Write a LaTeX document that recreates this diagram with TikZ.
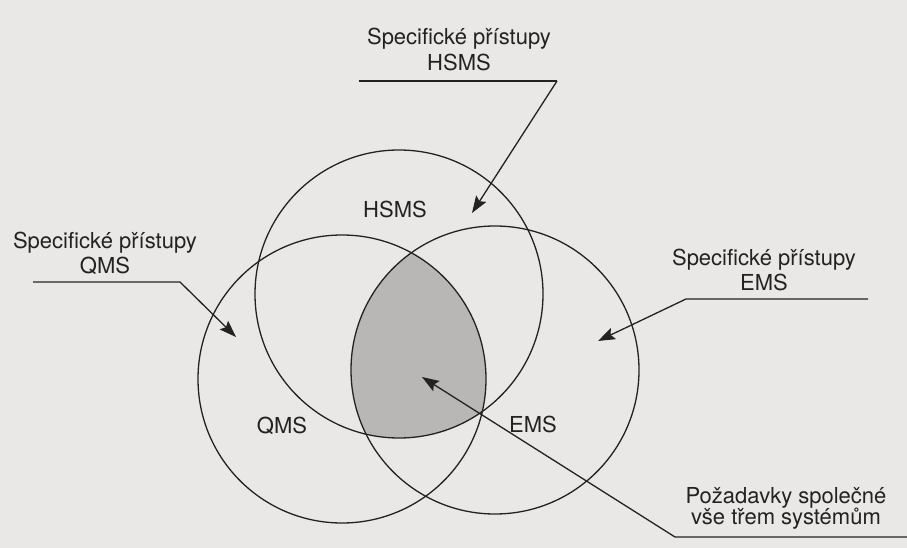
\documentclass[tikz,border=0pt]{standalone}
\usepackage{fontspec}
\setmainfont{TeX Gyre Heros}
\usetikzlibrary{arrows.meta}
\definecolor{paper}{RGB}{233,232,230}
\definecolor{ink}{RGB}{34,34,34}
\definecolor{core}{RGB}{184,183,181}
\begin{document}
\begin{tikzpicture}[x=1pt,y=-1pt,
  lbl/.style={inner sep=0pt, anchor=base, text=ink, font=\fontsize{22}{25}\selectfont},
  ring/.style={draw=ink, line width=1.3pt},
  pointer/.style={draw=ink, line width=1.3pt, line join=miter,
    -{Stealth[length=17pt, width=12pt, inset=3pt]}},
  rule/.style={draw=ink, line width=1.3pt}]
  % page
  \fill[paper] (0,0) rectangle (907,548);
  \useasboundingbox (0,0) rectangle (907,548);

  % circle centres
  \coordinate (cH) at (399,294);
  \coordinate (cQ) at (342,379);
  \coordinate (cE) at (495,370);

  % common part of the three systems
  \begin{scope}
    \clip (cH) circle (144);
    \clip (cQ) circle (144);
    \fill[core] (cE) circle (144);
  \end{scope}
  \draw[ring] (cH) circle (144);
  \draw[ring] (cQ) circle (144);
  \draw[ring] (cE) circle (144);

  % circle labels
  \node[lbl] (tH) at (395,217) {HSMS};
  \node[lbl] (tQ) at (282,433) {QMS};
  \node[lbl] (tE) at (533,432) {EMS};

  % callout: HSMS
  \node[lbl] (hA) at (459,45) {Specifické přístupy};
  \node[lbl] (hB) at (459,71) {HSMS};
  \coordinate (hL) at (359,81);
  \coordinate (hR) at (557,81);
  \coordinate (hT) at (472,213);
  \draw[rule] (hL) -- (hR);
  \draw[pointer] (hR) -- (hT);

  % callout: QMS
  \node[lbl] (qA) at (105,248) {Specifické přístupy};
  \node[lbl] (qB) at (105,273) {QMS};
  \coordinate (qL) at (33,282);
  \coordinate (qR) at (180,282);
  \coordinate (qT) at (236,337);
  \draw[pointer] (qL) -- (qR) -- (qT);

  % callout: EMS
  \node[lbl] (eA) at (764,265) {Specifické přístupy};
  \node[lbl] (eB) at (764,290) {EMS};
  \coordinate (eR) at (868,299);
  \coordinate (eL) at (686,299);
  \coordinate (eT) at (598,341);
  \draw[pointer] (eR) -- (eL) -- (eT);

  % callout: common requirements
  \node[lbl] (cA) at (786,503) {Požadavky společné};
  \node[lbl] (cB) at (786,524) {vše třem systémům};
  \coordinate (cR) at (907,537);
  \coordinate (cL) at (675,537);
  \coordinate (cT) at (422,377);
  \draw[pointer] (cR) -- (cL) -- (cT);
\end{tikzpicture}
\end{document}
